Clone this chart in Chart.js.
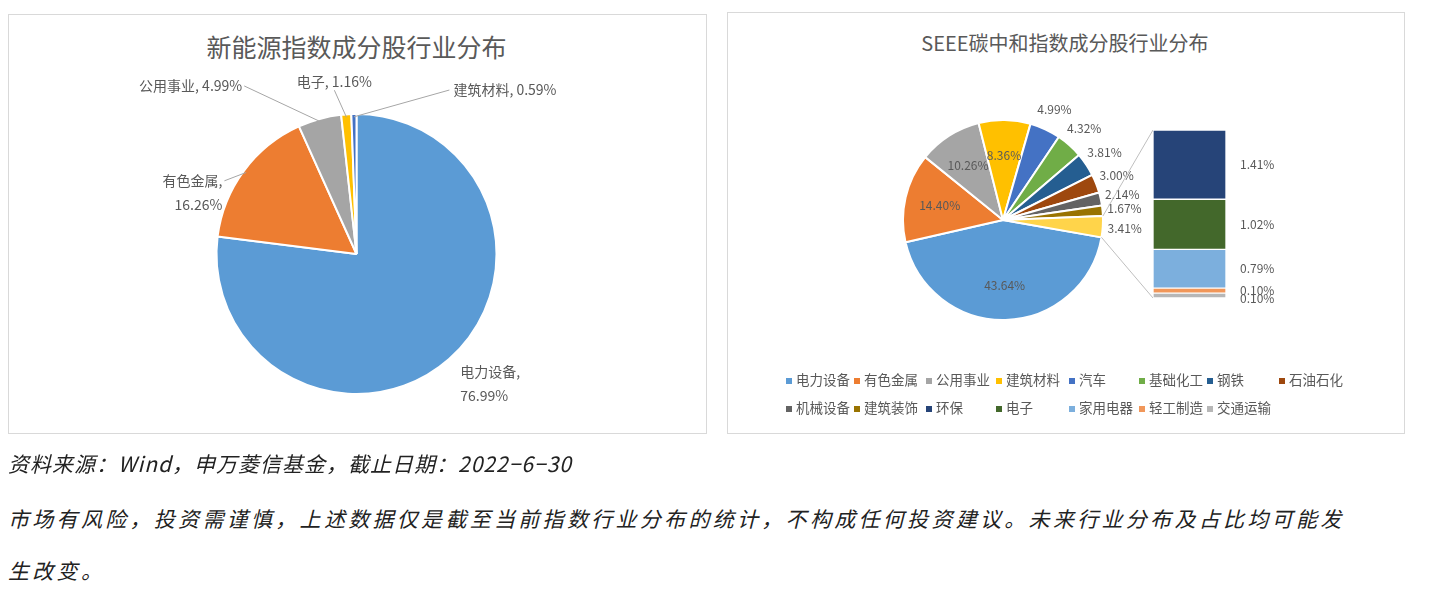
<!DOCTYPE html>
<html><head><meta charset="utf-8">
<script src="https://cdn.jsdelivr.net/npm/chart.js@4"></script>
<style>
body{margin:0;width:1440px;height:616px;background:#fff;font-family:"Noto Sans CJK SC","Noto Sans",sans-serif;position:relative;overflow:hidden}
.box{position:absolute;border:1px solid #d9d9d9;background:#fff}
.abs{position:absolute}
.title{position:absolute;color:#595959;text-align:center}
#legend{position:absolute;left:786px;top:369px;width:600px;display:grid;grid-template-columns:68px 72px 70px 73px 70px 68px 72px 80px;row-gap:8px;font-size:13.5px;color:#595959}
#legend span i{display:inline-block;width:6px;height:6px;margin-right:4px;vertical-align:middle}
.note{position:absolute;left:8px;font-size:21px;letter-spacing:3.3px;color:#222;font-style:italic;white-space:nowrap}
</style></head><body>
<div class="box" style="left:8px;top:14px;width:697px;height:418px"></div>
<div class="title" style="left:8px;top:28px;width:697px;font-size:25px">新能源指数成分股行业分布</div>
<canvas id="left" class="abs" width="697" height="400" style="left:8px;top:54px"></canvas>
<div class="box" style="left:727px;top:12px;width:676px;height:420px"></div>
<div class="title" style="left:727px;top:28px;width:676px;font-size:20px">SEEE碳中和指数成分股行业分布</div>
<canvas id="rightPie" class="abs" width="676" height="300" style="left:727px;top:70px"></canvas>
<canvas id="rightBar" class="abs" width="170" height="180" style="left:1140px;top:125px"></canvas>
<div id="legend"></div>
<div class="note" style="top:448px;letter-spacing:1px">资料来源：Wind，申万菱信基金，截止日期：2022−6−30</div>
<div class="note" style="top:503px">市场有风险，投资需谨慎，上述数据仅是截至当前指数行业分布的统计，不构成任何投资建议。未来行业分布及占比均可能发</div>
<div class="note" style="top:555px">生改变。</div>
<script>
// left pie
const leftCats = ["电力设备", "有色金属", "公用事业", "电子", "建筑材料"];
const leftVals = [76.99, 16.26, 4.99, 1.16, 0.59];
const leftColors = ["#5b9bd5", "#ed7d31", "#a5a5a5", "#ffc000", "#4472c4"];

// right pie (last slice = 其他, split into the bar)
const pieCats = ["电力设备", "有色金属", "公用事业", "建筑材料", "汽车", "基础化工", "钢铁", "石油石化", "机械设备", "建筑装饰", "其他"];
const pieVals = [43.64, 14.40, 10.26, 8.36, 4.99, 4.32, 3.81, 3.00, 2.14, 1.67, 3.41];
const pieColors = ["#5b9bd5", "#ed7d31", "#a5a5a5", "#ffc000", "#4472c4", "#70ad47", "#255e91", "#9e480e", "#636363", "#997300", "#ffd44a"];
const barCats = ["环保", "电子", "家用电器", "轻工制造", "交通运输"];
const barVals = [1.41, 1.02, 0.79, 0.10, 0.10];
const barColors = ["#264478", "#43682b", "#7cafdd", "#f1975a", "#b7b7b7"];

const GRAY = "#595959";
const FONT = '"Noto Sans CJK SC", sans-serif';

// outside labels for the left pie: [radius factor, dx, dy, align]
const leftLabelPos = [[1.12, 0, 0, "left"], [1.12, -8, 20, "right"], [1.2, -70, -6, "right"], [1.18, -10, -8, "center"], [1.2, 100, 4, "left"]];

const leftLabels = {
  id: "leftLabels",
  afterDatasetsDraw(chart) {
    const ctx = chart.ctx;
    ctx.save();
    ctx.font = "14px " + FONT;
    ctx.fillStyle = GRAY;
    ctx.strokeStyle = "#a6a6a6";
    ctx.textBaseline = "middle";
    chart.getDatasetMeta(0).data.forEach((arc, i) => {
      const mid = (arc.startAngle + arc.endAngle) / 2;
      const [f, dx, dy, align] = leftLabelPos[i];
      const R = arc.outerRadius;
      const lx = arc.x + Math.cos(mid) * R * f + dx;
      const ly = arc.y + Math.sin(mid) * R * f + dy;
      const name = leftCats[i] + ", ";
      const val = leftVals[i].toFixed(2) + "%";
      ctx.textAlign = align;
      if (i < 2) {
        ctx.fillText(name.trim(), lx, ly);
        ctx.fillText(val, lx, ly + 24);
      } else {
        ctx.fillText(name + val, lx, ly);
      }
      if (i > 0) {
        const ex = arc.x + Math.cos(mid) * R * 0.98, ey = arc.y + Math.sin(mid) * R * 0.98;
        ctx.beginPath();
        ctx.moveTo(ex, ey);
        const tx = align === "right" ? lx + 2 : align === "left" ? lx - 4 : lx;
        ctx.lineTo(tx, ly + (align === "center" ? 9 : 0));
        ctx.stroke();
      }
    });
    ctx.restore();
  }
};

new Chart(document.getElementById("left"), {
  type: "pie",
  data: { labels: leftCats, datasets: [{ data: leftVals, backgroundColor: leftColors, borderColor: "#fff", borderWidth: 2 }] },
  options: {
    responsive: false, animation: false, radius: 140,
    plugins: { legend: { display: false }, tooltip: { enabled: false } }
  },
  plugins: [leftLabels]
});

const rightLabels = {
  id: "rightLabels",
  afterDatasetsDraw(chart) {
    const ctx = chart.ctx;
    ctx.save();
    ctx.font = "12px " + FONT;
    ctx.fillStyle = GRAY;
    ctx.textBaseline = "middle";
    ctx.textAlign = "center";
    const arcs = chart.getDatasetMeta(0).data;
    arcs.forEach((arc, i) => {
      const mid = (arc.startAngle + arc.endAngle) / 2;
      const R = arc.outerRadius;
      const f = pieVals[i] > 8 ? 0.65 : 1.22;
      ctx.fillText(pieVals[i].toFixed(2) + "%", arc.x + Math.cos(mid) * R * f, arc.y + Math.sin(mid) * R * f);
    });
    // connector lines from 其他 slice to the bar
    const other = arcs[arcs.length - 1];
    const bar = Chart.getChart("rightBar");
    if (bar) {
      const c1 = chart.canvas.getBoundingClientRect(), c2 = bar.canvas.getBoundingClientRect();
      const bx = c2.left - c1.left + bar.chartArea.left;
      const top = c2.top - c1.top + bar.chartArea.top;
      const bot = c2.top - c1.top + bar.chartArea.bottom;
      const R = other.outerRadius;
      ctx.strokeStyle = "#bfbfbf";
      ctx.beginPath();
      ctx.moveTo(other.x + Math.cos(other.startAngle) * R, other.y + Math.sin(other.startAngle) * R);
      ctx.lineTo(bx, top);
      ctx.moveTo(other.x + Math.cos(other.endAngle) * R, other.y + Math.sin(other.endAngle) * R);
      ctx.lineTo(bx, bot);
      ctx.stroke();
    }
    ctx.restore();
  }
};

const barLabels = {
  id: "barLabels",
  afterDatasetsDraw(chart) {
    const ctx = chart.ctx;
    ctx.save();
    ctx.font = "12px " + FONT;
    ctx.fillStyle = GRAY;
    ctx.textBaseline = "middle";
    chart.data.datasets.forEach((ds, i) => {
      const el = chart.getDatasetMeta(i).data[0];
      ctx.fillText(ds.data[0].toFixed(2) + "%", chart.chartArea.right + 14, (el.y + el.base) / 2 + (i === 0 ? 3 : 0));
    });
    ctx.restore();
  }
};

// stack bottom-up, so reverse
const barSets = barCats.map((c, i) => ({ label: c, data: [barVals[i]], backgroundColor: barColors[i], borderColor: "#fff", borderWidth: 1, borderSkipped: false, barPercentage: 1, categoryPercentage: 1 })).reverse();

new Chart(document.getElementById("rightBar"), {
  type: "bar",
  data: { labels: [""], datasets: barSets },
  options: {
    responsive: false, animation: false,
    layout: { padding: { left: 13, top: 5, bottom: 7, right: 84 } },
    scales: { x: { stacked: true, display: false }, y: { stacked: true, display: false, min: 0, max: 3.42 } },
    plugins: { legend: { display: false }, tooltip: { enabled: false } }
  },
  plugins: [barLabels]
});

new Chart(document.getElementById("rightPie"), {
  type: "pie",
  data: { labels: pieCats, datasets: [{ data: pieVals, backgroundColor: pieColors, borderColor: "#fff", borderWidth: 2 }] },
  options: {
    responsive: false, animation: false, radius: 100, rotation: 100,
    layout: { padding: { right: 124 } },
    plugins: { legend: { display: false }, tooltip: { enabled: false } }
  },
  plugins: [rightLabels]
});

// legend
const legendCats = pieCats.slice(0, -1).concat(barCats);
const legendColors = pieColors.slice(0, -1).concat(barColors);
document.getElementById("legend").innerHTML = legendCats.map((c, i) =>
  '<span><i style="background:' + legendColors[i] + '"></i>' + c + '</span>').join("");
</script>
</body></html>
